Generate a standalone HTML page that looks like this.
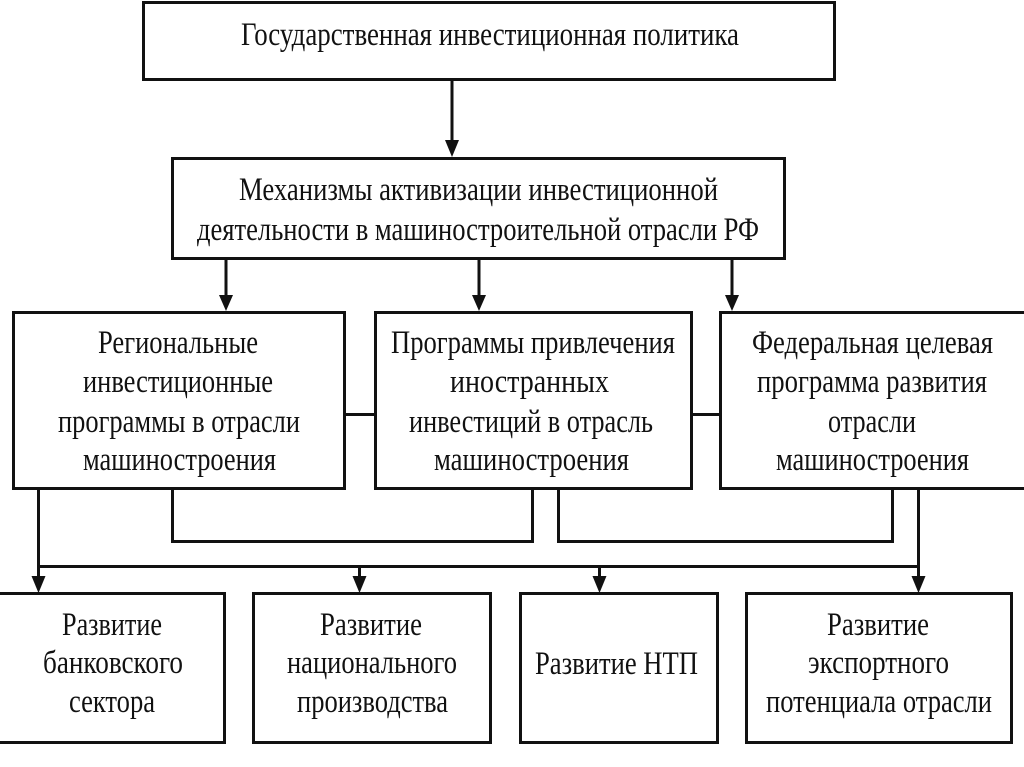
<!DOCTYPE html>
<html>
<head>
<meta charset="utf-8">
<style>
  html, body { margin: 0; padding: 0; background: #fff; }
  body { width: 1024px; height: 767px; overflow: hidden; }
  svg { display: block; }
  text { font-family: "Liberation Serif", "DejaVu Serif", serif; font-size: 33px; fill: #111; }
</style>
</head>
<body>
<svg width="1024" height="767" viewBox="0 0 1024 767" xmlns="http://www.w3.org/2000/svg">
  <rect x="0" y="0" width="1024" height="767" fill="#fff"/>
  <g fill="none" stroke="#111" stroke-width="3">
    <!-- top box -->
    <rect x="143.5" y="2.5" width="691" height="77"/>
    <!-- mechanism box -->
    <rect x="172.5" y="158.5" width="612" height="100"/>
    <!-- middle boxes -->
    <rect x="13.5" y="312.5" width="331" height="176"/>
    <rect x="375.5" y="312.5" width="316" height="176"/>
    <rect x="720.5" y="312.5" width="320" height="176"/>
    <!-- bottom boxes -->
    <rect x="-5" y="593.5" width="229.5" height="149"/>
    <rect x="253.5" y="593.5" width="237" height="149"/>
    <rect x="520.5" y="593.5" width="197" height="149"/>
    <rect x="746.5" y="593.5" width="265" height="149"/>

    <!-- connectors -->
    <line x1="452" y1="80" x2="452" y2="145"/>
    <line x1="226" y1="259" x2="226" y2="300"/>
    <line x1="479" y1="259" x2="479" y2="300"/>
    <line x1="732" y1="259" x2="732" y2="300"/>

    <line x1="344" y1="414.5" x2="376" y2="414.5"/>
    <line x1="691" y1="414.5" x2="721" y2="414.5"/>

    <polyline points="172.5,489 172.5,541.5 532.5,541.5 532.5,489"/>
    <polyline points="558.5,489 558.5,541.5 892.5,541.5 892.5,489"/>

    <line x1="38.5" y1="489" x2="38.5" y2="580"/>
    <line x1="37" y1="566.5" x2="920" y2="566.5"/>
    <line x1="918.5" y1="489" x2="918.5" y2="580"/>
    <line x1="359.5" y1="566" x2="359.5" y2="580"/>
    <line x1="599.5" y1="566" x2="599.5" y2="580"/>
  </g>
  <g fill="#111">
    <polygon points="445,140 459,140 452,157"/>
    <polygon points="219,295 233,295 226,311"/>
    <polygon points="472,295 486,295 479,311"/>
    <polygon points="725,295 739,295 732,311"/>
    <polygon points="31.5,576 45.5,576 38.5,593"/>
    <polygon points="352.5,576 366.5,576 359.5,593"/>
    <polygon points="592.5,576 606.5,576 599.5,593"/>
    <polygon points="911.5,576 925.5,576 918.5,593"/>
  </g>

  <!-- texts -->
  <text x="241" y="45" textLength="498" lengthAdjust="spacingAndGlyphs">Государственная инвестиционная политика</text>

  <text x="239" y="200" textLength="479" lengthAdjust="spacingAndGlyphs">Механизмы активизации инвестиционной</text>
  <text x="197" y="240" textLength="562" lengthAdjust="spacingAndGlyphs">деятельности в машиностроительной отрасли РФ</text>

  <text x="98" y="353" textLength="160" lengthAdjust="spacingAndGlyphs">Региональные</text>
  <text x="83" y="392" textLength="190" lengthAdjust="spacingAndGlyphs">инвестиционные</text>
  <text x="58" y="432" textLength="242" lengthAdjust="spacingAndGlyphs">программы в отрасли</text>
  <text x="83" y="470" textLength="193" lengthAdjust="spacingAndGlyphs">машиностроения</text>

  <text x="391" y="353" textLength="284" lengthAdjust="spacingAndGlyphs">Программы привлечения</text>
  <text x="450" y="392" textLength="159" lengthAdjust="spacingAndGlyphs">иностранных</text>
  <text x="409" y="432" textLength="244" lengthAdjust="spacingAndGlyphs">инвестиций в отрасль</text>
  <text x="434" y="470" textLength="195" lengthAdjust="spacingAndGlyphs">машиностроения</text>

  <text x="752" y="353" textLength="241" lengthAdjust="spacingAndGlyphs">Федеральная целевая</text>
  <text x="757" y="392" textLength="230" lengthAdjust="spacingAndGlyphs">программа развития</text>
  <text x="828" y="432" textLength="88" lengthAdjust="spacingAndGlyphs">отрасли</text>
  <text x="776" y="470" textLength="193" lengthAdjust="spacingAndGlyphs">машиностроения</text>

  <text x="62" y="635" textLength="100" lengthAdjust="spacingAndGlyphs">Развитие</text>
  <text x="43" y="673" textLength="140" lengthAdjust="spacingAndGlyphs">банковского</text>
  <text x="69" y="712" textLength="86" lengthAdjust="spacingAndGlyphs">сектора</text>

  <text x="320" y="635" textLength="102" lengthAdjust="spacingAndGlyphs">Развитие</text>
  <text x="287" y="673" textLength="170" lengthAdjust="spacingAndGlyphs">национального</text>
  <text x="297" y="712" textLength="151" lengthAdjust="spacingAndGlyphs">производства</text>

  <text x="535" y="674" textLength="163" lengthAdjust="spacingAndGlyphs">Развитие НТП</text>

  <text x="827" y="635" textLength="102" lengthAdjust="spacingAndGlyphs">Развитие</text>
  <text x="808" y="673" textLength="141" lengthAdjust="spacingAndGlyphs">экспортного</text>
  <text x="766" y="712" textLength="226" lengthAdjust="spacingAndGlyphs">потенциала отрасли</text>
</svg>
</body>
</html>
